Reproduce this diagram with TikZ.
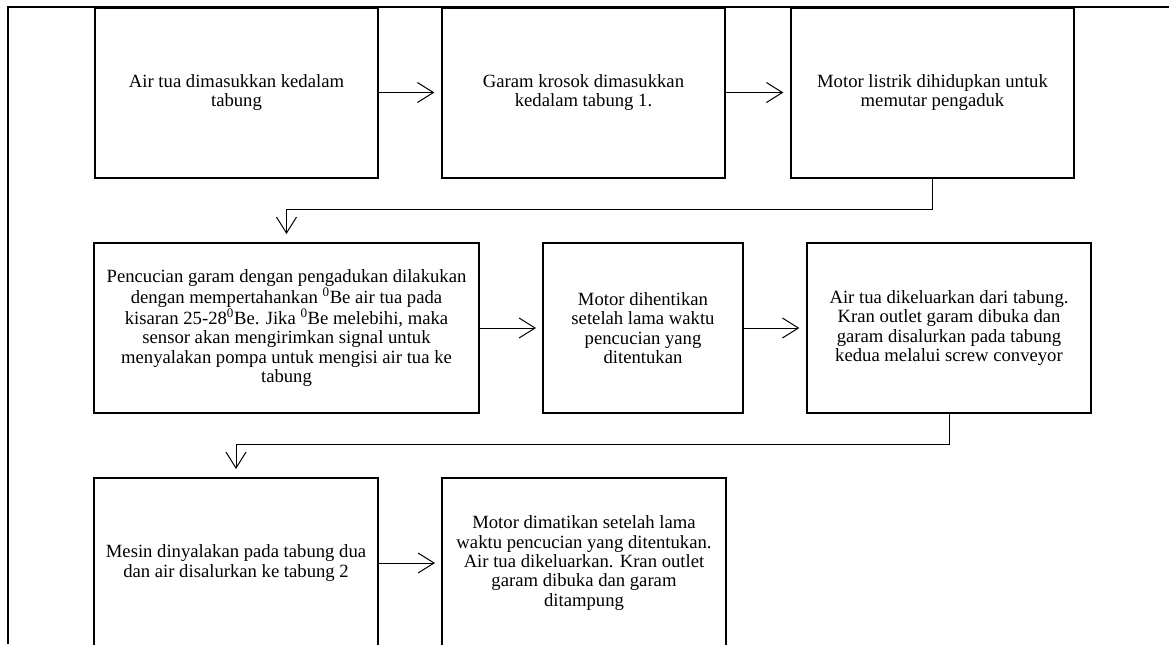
\documentclass[tikz,border=0pt]{standalone}
\usepackage{fontspec}
\setmainfont{Liberation Serif}
\usetikzlibrary{arrows.meta,calc}
\tikzset{
  stepbox/.style={draw, line width=1.5pt, rectangle, inner sep=0pt, align=center,
    font=\fontsize{14}{14.6}\selectfont, minimum height=170*0.75pt},
  arr/.style={line width=0.75pt, -{Straight Barb[length=12pt,width=15pt]}},
  frameline/.style={line width=1.1pt}
}
\begin{document}
\begin{tikzpicture}[x=0.75pt,y=-0.75pt]
\useasboundingbox (0,0) rectangle (1169,644);
\clip (0,0) rectangle (1169,644);
\fill[white] (0,0) rectangle (1169,644);
\draw[frameline] (8,644) -- (8,7) -- (1169,7);

\node[stepbox, minimum width=283*0.75pt] (b1) at (236.5,92.5) {Air tua dimasukkan kedalam\\tabung};
\node[stepbox, minimum width=283*0.75pt] (b2) at (583.5,92.5) {Garam krosok dimasukkan\\kedalam tabung 1.};
\node[stepbox, minimum width=283*0.75pt] (b3) at (932.5,92.5) {Motor listrik dihidupkan untuk\\memutar pengaduk};

\node[stepbox, minimum width=385*0.75pt] (b4) at (286.5,328) {Pencucian garam dengan pengadukan dilakukan\\dengan mempertahankan \textsuperscript{0}Be air tua pada\\kisaran 25-28\textsuperscript{0}Be. Jika \textsuperscript{0}Be melebihi, maka\\sensor akan mengirimkan signal untuk\\menyalakan pompa untuk mengisi air tua ke\\tabung};
\node[stepbox, minimum width=200*0.75pt] (b5) at (643,328) {Motor dihentikan\\setelah lama waktu\\pencucian yang\\ditentukan};
\node[stepbox, minimum width=284*0.75pt] (b6) at (949,328) {Air tua dikeluarkan dari tabung.\\Kran outlet garam dibuka dan\\garam disalurkan pada tabung\\kedua melalui screw conveyor};

\node[stepbox, minimum width=284*0.75pt] (b7) at (236,563) {Mesin dinyalakan pada tabung dua\\dan air disalurkan ke tabung 2};
\node[stepbox, minimum width=284*0.75pt] (b8) at (584,563) {Motor dimatikan setelah lama\\waktu pencucian yang ditentukan.\\Air tua dikeluarkan. Kran outlet\\garam dibuka dan garam\\ditampung};

\draw[arr, shorten >=5pt] (b1.east) -- (b2.west);
\draw[arr, shorten >=5pt] (b2.east) -- (b3.west);
\draw[arr, shorten >=4.5pt] (b4.east) -- (b5.west);
\draw[arr, shorten >=5pt] (b5.east) -- (b6.west);
\draw[arr, shorten >=4.5pt] (b7.east) -- (b8.west);

\coordinate (k1) at ($(b4.north)+(0,-33)$);
\coordinate (k2) at ($(b7.north)+(0,-33)$);
\draw[arr, shorten >=6pt] (b3.south) |- (k1) -- (b4.north);
\draw[arr, shorten >=6pt] (b6.south) |- (k2) -- (b7.north);
\end{tikzpicture}
\end{document}
